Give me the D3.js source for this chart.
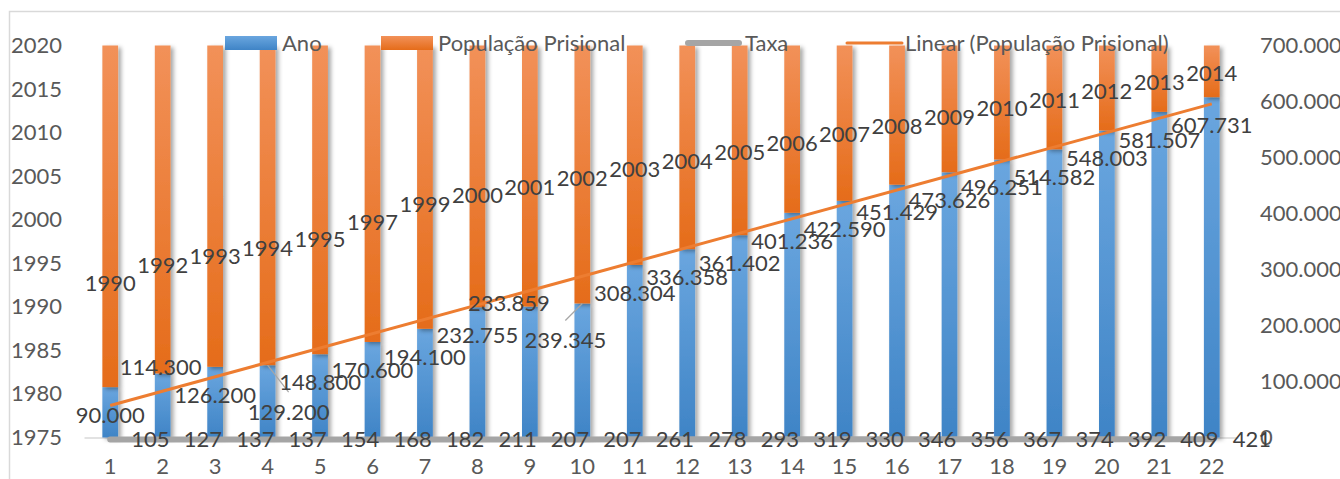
<!DOCTYPE html>
<html>
<head>
<meta charset="utf-8">
<script src="https://cdn.jsdelivr.net/npm/d3@7"></script>
<style>
  html, body { margin: 0; padding: 0; background: #ffffff; }
  svg text { font-family: Lato, "Open Sans", sans-serif; }
</style>
</head>
<body>
<div id="chart"></div>
<script>
// Data
const categories = [1, 2, 3, 4, 5, 6, 7, 8, 9, 10, 11, 12, 13, 14, 15, 16, 17, 18, 19, 20, 21, 22];
const anos = [1990, 1992, 1993, 1994, 1995, 1997, 1999, 2000, 2001, 2002, 2003,
              2004, 2005, 2006, 2007, 2008, 2009, 2010, 2011, 2012, 2013, 2014];
const populacao = [90000, 114300, 126200, 129200, 148800, 170600, 194100, 232755, 233859, 239345, 308304,
                   336358, 361402, 401236, 422590, 451429, 473626, 496251, 514582, 548003, 581507, 607731];
const taxa = [105, 127, 137, 137, 154, 168, 182, 211, 207, 207, 261,
              278, 293, 319, 330, 346, 356, 367, 374, 392, 409, 421];
const leftTicks = [1975, 1980, 1985, 1990, 1995, 2000, 2005, 2010, 2015, 2020];
const rightTicks = [0, 100000, 200000, 300000, 400000, 500000, 600000, 700000];
const legendItems = ["Ano", "População Prisional", "Taxa", "Linear (População Prisional)"];

// labels that were dragged by hand in the original chart (index -> offset)
const labelNudge = {
  1: { dx: -2, dy: -34 },
  3: { dx: 21, dy: 19, leader: true },
  8: { dx: -21, dy: -31 },
  9: { dx: -17, dy: 9, leader: true }
};

const width = 1340;
const height = 479;
const plot = { left: 84, right: 1238, top: 45.5, bottom: 437.5 };
const fontSize = "22px";

const ptBR = d3.formatLocale({ decimal: ",", thousands: ".", grouping: [3], currency: ["", ""] });
const fmt = ptBR.format(",d");

const svg = d3.select("#chart")
  .append("svg")
  .attr("width", width)
  .attr("height", height);

const defs = svg.append("defs");

const shadow = defs.append("filter")
  .attr("id", "shadow")
  .attr("x", "-50%").attr("y", "-10%")
  .attr("width", "220%").attr("height", "130%");
shadow.append("feDropShadow")
  .attr("dx", 3).attr("dy", 2)
  .attr("stdDeviation", 2)
  .attr("flood-color", "#000")
  .attr("flood-opacity", 0.35);

function gradient(id, top, bottom) {
  const g = defs.append("linearGradient")
    .attr("id", id)
    .attr("x1", 0).attr("y1", 0).attr("x2", 0).attr("y2", 1);
  g.append("stop").attr("offset", "0%").attr("stop-color", top);
  g.append("stop").attr("offset", "100%").attr("stop-color", bottom);
}
gradient("gradBlue", "#6aa6df", "#3f84c6");
gradient("gradOrange", "#f29159", "#e56c1a");

// chart border
svg.append("rect")
  .attr("x", 9.5).attr("y", 11.5)
  .attr("width", width + 20).attr("height", height + 20)
  .attr("fill", "none")
  .attr("stroke", "#d9d9d9")
  .attr("stroke-width", 1.5);

// Scales
const x = d3.scaleBand()
  .domain(categories)
  .range([plot.left, plot.right])
  .paddingInner(0.7)
  .paddingOuter(0.35);

const yLeft = d3.scaleLinear()
  .domain([1975, 2020])
  .range([plot.bottom, plot.top]);

const yRight = d3.scaleLinear()
  .domain([0, 700000])
  .range([plot.bottom, plot.top]);

const cx = c => x(c) + x.bandwidth() / 2;

// Axes
const leftAxis = svg.append("g")
  .attr("transform", `translate(${plot.left},0)`)
  .call(d3.axisLeft(yLeft).tickValues(leftTicks).tickSize(0).tickPadding(22).tickFormat(d3.format("d")));
leftAxis.select(".domain").remove();

const rightAxis = svg.append("g")
  .attr("transform", `translate(${plot.right},0)`)
  .call(d3.axisRight(yRight).tickValues(rightTicks).tickSize(0).tickPadding(22).tickFormat(fmt));
rightAxis.select(".domain").remove();

const bottomAxis = svg.append("g")
  .attr("transform", `translate(0,${plot.bottom})`)
  .call(d3.axisBottom(x).tickSize(0));
bottomAxis.select(".domain")
  .attr("stroke", "#d9d9d9")
  .attr("stroke-width", 1.5);
bottomAxis.selectAll("text").attr("y", 29).attr("dy", "0.35em");

svg.selectAll(".tick text")
  .attr("fill", "#595959")
  .style("font-size", fontSize);

// Bars: blue = population on the right axis, orange = rest of the column up to 2020
const bars = svg.append("g");
bars.selectAll(".blue")
  .data(categories)
  .join("rect")
  .attr("class", "blue")
  .attr("x", c => x(c))
  .attr("width", x.bandwidth())
  .attr("y", (c, i) => yRight(populacao[i]))
  .attr("height", (c, i) => yRight(0) - yRight(populacao[i]))
  .attr("fill", "url(#gradBlue)")
  .attr("filter", "url(#shadow)");

bars.selectAll(".orange")
  .data(categories)
  .join("rect")
  .attr("class", "orange")
  .attr("x", c => x(c))
  .attr("width", x.bandwidth())
  .attr("y", yLeft(2020))
  .attr("height", (c, i) => yRight(populacao[i]) - yLeft(2020))
  .attr("fill", "url(#gradOrange)")
  .attr("filter", "url(#shadow)");

// Taxa line (secondary axis, sits on the baseline)
const taxaLine = d3.line()
  .x((d, i) => cx(categories[i]))
  .y(d => yRight(d) + 2);
svg.append("path")
  .datum(taxa)
  .attr("d", taxaLine)
  .attr("fill", "none")
  .attr("stroke", "#a5a5a5")
  .attr("stroke-width", 6)
  .attr("stroke-linecap", "round");

// Linear trend of population (least squares)
const n = categories.length;
const mx = d3.mean(categories);
const my = d3.mean(populacao);
const slope = d3.sum(categories, (c, i) => (c - mx) * (populacao[i] - my)) / d3.sum(categories, c => (c - mx) ** 2);
const intercept = my - slope * mx;
const trend = [categories[0], categories[n - 1]].map(c => [cx(c), yRight(intercept + slope * c)]);
svg.append("path")
  .attr("d", d3.line()(trend))
  .attr("fill", "none")
  .attr("stroke", "#ed7d31")
  .attr("stroke-width", 3);

// Data labels
const labelStyle = sel => sel
  .attr("fill", "#404040")
  .style("font-size", fontSize)
  .attr("text-anchor", "middle")
  .attr("dy", "0.35em");

// Taxa labels (right of each point)
svg.append("g").selectAll("text")
  .data(taxa)
  .join("text")
  .attr("x", (d, i) => cx(categories[i]) + 21)
  .attr("y", d => yRight(d) + 2)
  .call(labelStyle)
  .attr("text-anchor", "start")
  .text(d => d);

// Year labels (above the point on the left axis)
svg.append("g").selectAll("text")
  .data(anos)
  .join("text")
  .attr("x", (d, i) => cx(categories[i]))
  .attr("y", d => yLeft(d) - 24)
  .call(labelStyle)
  .text(d => d);

// Population labels (inside end of the blue column)
const popLabels = populacao.map((v, i) => {
  const nudge = labelNudge[i] || { dx: 0, dy: 0 };
  return {
    v,
    bx: cx(categories[i]),
    by: yRight(v),
    lx: cx(categories[i]) + nudge.dx,
    ly: yRight(v) + 28 + nudge.dy,
    leader: !!nudge.leader
  };
});

svg.append("g").selectAll("line")
  .data(popLabels.filter(d => d.leader))
  .join("line")
  .attr("x1", d => d.bx)
  .attr("y1", d => d.by)
  .attr("x2", d => d.lx)
  .attr("y2", d => d.ly - 20)
  .attr("stroke", "#a6a6a6")
  .attr("stroke-width", 1.2);

svg.append("g").selectAll("text")
  .data(popLabels)
  .join("text")
  .attr("x", d => d.lx)
  .attr("y", d => d.ly)
  .call(labelStyle)
  .text(d => fmt(d.v));

// Legend
const legendX = [225, 381, 685, 847];
const legend = svg.append("g");
legendItems.forEach((name, i) => {
  const g = legend.append("g").attr("transform", `translate(${legendX[i]},43)`);
  if (i < 2) {
    g.append("rect")
      .attr("x", 0).attr("y", -7)
      .attr("width", 52).attr("height", 14)
      .attr("fill", i === 0 ? "url(#gradBlue)" : "url(#gradOrange)");
  } else {
    g.append("line")
      .attr("x1", i === 2 ? 3 : 0).attr("x2", i === 2 ? 54 : 55)
      .attr("y1", 0).attr("y2", 0)
      .attr("stroke", i === 2 ? "#a5a5a5" : "#ed7d31")
      .attr("stroke-width", i === 2 ? 6 : 3)
      .attr("stroke-linecap", "round");
  }
  g.append("text")
    .attr("x", i < 2 ? 57 : (i === 2 ? 60 : 58))
    .attr("y", 0)
    .attr("dy", "0.35em")
    .attr("fill", "#595959")
    .style("font-size", fontSize)
    .text(name);
});
</script>
</body>
</html>
